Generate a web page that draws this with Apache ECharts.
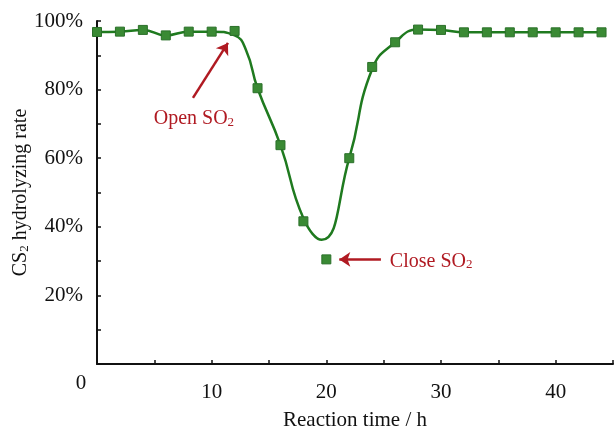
<!DOCTYPE html>
<html>
<head>
<meta charset="utf-8">
<script src="https://cdn.jsdelivr.net/npm/echarts@6/dist/echarts.min.js"></script>
<style>
html,body{margin:0;padding:0;background:#fff;}
#c{width:614px;height:430px;}
</style>
</head>
<body>
<div id="c"></div>
<script>
// Measured points (reaction time in h, CS2 hydrolyzing rate in %)
var timeH = [0,2,4,6,8,10,12,14,16,18,20,22,24,26,28,30,32,34,36,38,40,42,44];
var rate  = [96.8,96.9,97.4,95.8,96.9,96.9,97.1,80.4,63.8,41.6,30.5,60.0,86.6,93.8,97.5,97.4,96.7,96.7,96.7,96.7,96.7,96.7,96.7];
// Fitted curve
var fitX = [0,2,4,6,8,10,12,13,14,16,18,19.6,22,24,26,28,30,32,34,36,38,40,42,44];
var fitY = [96.8,96.9,97.4,95.8,96.9,96.9,95.8,91.5,80.4,63.8,42.5,36.2,60.0,86.0,93.8,97.5,97.4,96.7,96.7,96.7,96.7,96.7,96.7,96.7];
// Axis ticks
var xTickLabels = [10,20,30,40];
var yTickLabels = [20,40,60,80,100];
// Annotations
var openArrow = [[8.37,77.6],[11.42,93.6]];
var openText = [8.45,72.0];
var closeArrow = [[24.76,30.5],[21.13,30.5]];
var closeText = [25.54,30.5];

var serif = 'Liberation Serif, Times New Roman, serif';
var red = '#b01a22';
var chart = echarts.init(document.getElementById('c'), null, {renderer:'canvas'});

function zip(a,b){ return a.map(function(v,i){ return [v,b[i]]; }); }

var subRich = {
  a:{fontFamily:serif,fontSize:20,color:red,lineHeight:24,verticalAlign:'bottom'},
  b:{fontFamily:serif,fontSize:13,color:red,lineHeight:18,verticalAlign:'bottom'}
};

chart.setOption({
  animation:false,
  backgroundColor:'#fff',
  grid:{left:97,right:1,top:21,bottom:66,containLabel:false,outerBoundsMode:'none'},
  xAxis:{
    type:'value',min:0,max:45,interval:5,
    name:'Reaction time / h',nameLocation:'middle',nameGap:46,nameMoveOverlap:false,
    nameTextStyle:{fontFamily:serif,fontSize:21,color:'#111'},
    axisLine:{lineStyle:{color:'#111',width:2}},
    axisTick:{inside:true,length:4,lineStyle:{color:'#111',width:1.5}},
    splitLine:{show:false},
    axisLabel:{
      fontFamily:serif,fontSize:21,color:'#111',margin:18,
      formatter:function(v){ return xTickLabels.indexOf(v)>=0 ? String(v) : ''; }
    }
  },
  yAxis:{
    type:'value',min:0,max:100,interval:10,
    name:'{a|CS}{b|2}{a| hydrolyzing rate}',nameLocation:'middle',nameGap:66,nameMoveOverlap:false,
    nameTextStyle:{rich:{
      a:{fontFamily:serif,fontSize:20,color:'#111',lineHeight:24,verticalAlign:'bottom'},
      b:{fontFamily:serif,fontSize:13,color:'#111',lineHeight:18,verticalAlign:'bottom'}
    }},
    axisLine:{show:true,lineStyle:{color:'#111',width:2}},
    axisTick:{show:true,inside:true,length:4,lineStyle:{color:'#111',width:1.5}},
    splitLine:{show:false},
    axisLabel:{
      fontFamily:serif,fontSize:21,color:'#111',margin:14,
      formatter:function(v){ return yTickLabels.indexOf(v)>=0 ? v+'%' : ''; }
    }
  },
  graphic:[{
    type:'text',
    style:{text:'0',x:81,y:383,align:'center',verticalAlign:'middle',font:'21px '+serif,fill:'#111'}
  }],
  series:[
    {
      type:'line',data:zip(fitX,fitY),smooth:0.5,showSymbol:false,
      lineStyle:{color:'#1f7a1f',width:2.5},z:2,
      markLine:{
        silent:true,symbol:['none','arrow'],symbolSize:11,
        lineStyle:{color:red,width:2.5,type:'solid'},label:{show:false},
        data:[
          [{coord:openArrow[0]},{coord:openArrow[1]}],
          [{coord:closeArrow[0]},{coord:closeArrow[1]}]
        ]
      },
      markPoint:{
        silent:true,symbol:'circle',symbolSize:0,
        data:[
          {coord:openText,label:{show:true,position:'inside',formatter:'{a|Open SO}{b|2}',rich:subRich}},
          {coord:closeText,label:{show:true,position:'right',distance:0,formatter:'{a|Close SO}{b|2}',rich:subRich}}
        ]
      }
    },
    {
      type:'scatter',data:zip(timeH,rate),symbol:'rect',symbolSize:9,
      itemStyle:{color:'#3a8a34',borderColor:'#2b702a',borderWidth:1,opacity:1},z:3
    }
  ]
});
</script>
</body>
</html>
